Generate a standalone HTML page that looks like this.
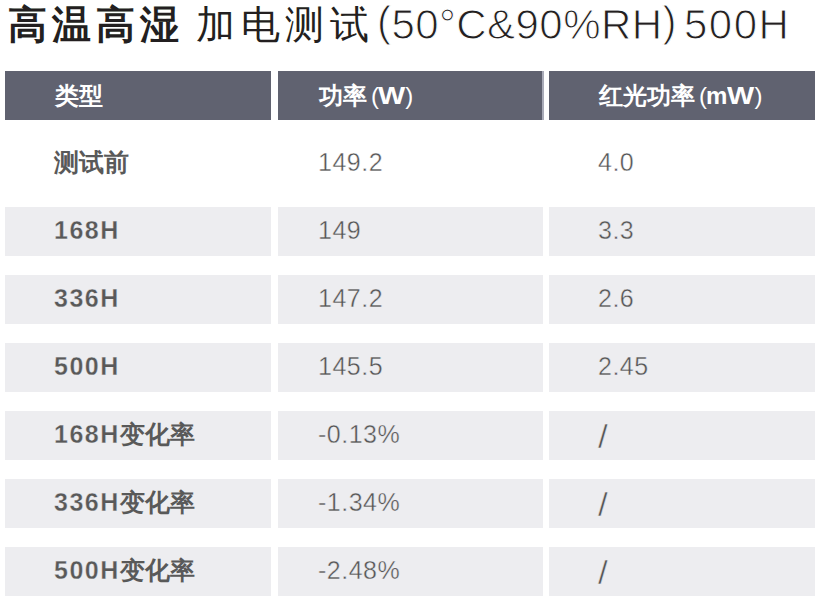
<!DOCTYPE html>
<html><head><meta charset="utf-8">
<style>
*{margin:0;padding:0;box-sizing:border-box}
html,body{width:820px;height:607px;background:#fff;overflow:hidden}
body{position:relative;font-family:"Liberation Sans",sans-serif}
.t{position:absolute;top:0;height:50px;line-height:50px;color:#231f20;white-space:nowrap}
.tb{font-size:39px;font-weight:700;letter-spacing:5px}
.tl{font-size:39px;font-weight:300;letter-spacing:5.5px}
.tp{position:relative;top:-3px}
.tn{font-size:42px;font-weight:400;letter-spacing:0.45px;-webkit-text-stroke:1px #fff}
.c{position:absolute;height:49px;line-height:49px;font-size:25px;white-space:nowrap}
.h{background:#606270;color:#fff;font-weight:700;font-size:24px}
.h .pl{font-weight:400;margin-left:4px;margin-right:-1px}
.h .pr{font-weight:400;margin-left:0px}
.h .w{display:inline-block;transform:scaleX(1.2);transform-origin:0 0;margin-right:4.5px}
.h.c1{padding-left:50px}
.g{background:#ededf0}
.k{font-weight:700;color:#595959;line-height:47px}
.k i{font-style:normal;letter-spacing:1.5px;-webkit-text-stroke:0.3px #ededf0}
.n{color:#555;line-height:47px;letter-spacing:0.5px;-webkit-text-stroke:0.4px #fff}
.sl{display:inline-block;transform:translate(1.5px,2.5px) scale(1.4,1.3)}
.g.n{-webkit-text-stroke-color:#ededf0}
.c1{left:5px;width:266px;padding-left:50px}
.k.c1{padding-left:49px}
.c2{left:278px;width:265px;padding-left:41px}
.h.c2{width:266px;border-right:2px solid #a9abb8}
.n.c2{padding-left:40px}
.c3{left:549px;width:266px;padding-left:50px}
.n.c3{padding-left:49px}
</style></head><body>
<div class="t tb" style="left:8px">高温高湿</div>
<div class="t tl" style="left:196px">加电测试</div>
<div class="t tn" style="left:377px"><span class="tp">(</span>50°C&amp;90%RH<span class="tp">)</span></div>
<div class="t tn" style="left:684px;letter-spacing:1.5px">500H</div>

<div class="c h c1" style="top:71px">类型</div>
<div class="c h c2" style="top:71px">功率<span class="pl">(</span><span class="w">W</span><span class="pr">)</span></div>
<div class="c h c3" style="top:71px">红光功率<span class="pl">(</span>m<span class="w">W</span><span class="pr">)</span></div>

<div class="c k c1" style="top:139px">测试前</div>
<div class="c n c2" style="top:139px">149.2</div>
<div class="c n c3" style="top:139px">4.0</div>

<div class="c g k c1" style="top:207px"><i>168H</i></div>
<div class="c g n c2" style="top:207px">149</div>
<div class="c g n c3" style="top:207px">3.3</div>

<div class="c g k c1" style="top:275px"><i>336H</i></div>
<div class="c g n c2" style="top:275px">147.2</div>
<div class="c g n c3" style="top:275px">2.6</div>

<div class="c g k c1" style="top:343px"><i>500H</i></div>
<div class="c g n c2" style="top:343px">145.5</div>
<div class="c g n c3" style="top:343px">2.45</div>

<div class="c g k c1" style="top:411px"><i>168H</i>变化率</div>
<div class="c g n c2" style="top:411px">-0.13%</div>
<div class="c g n c3" style="top:411px"><span class="sl">/</span></div>

<div class="c g k c1" style="top:479px"><i>336H</i>变化率</div>
<div class="c g n c2" style="top:479px">-1.34%</div>
<div class="c g n c3" style="top:479px"><span class="sl">/</span></div>

<div class="c g k c1" style="top:547px"><i>500H</i>变化率</div>
<div class="c g n c2" style="top:547px">-2.48%</div>
<div class="c g n c3" style="top:547px"><span class="sl">/</span></div>
</body></html>
